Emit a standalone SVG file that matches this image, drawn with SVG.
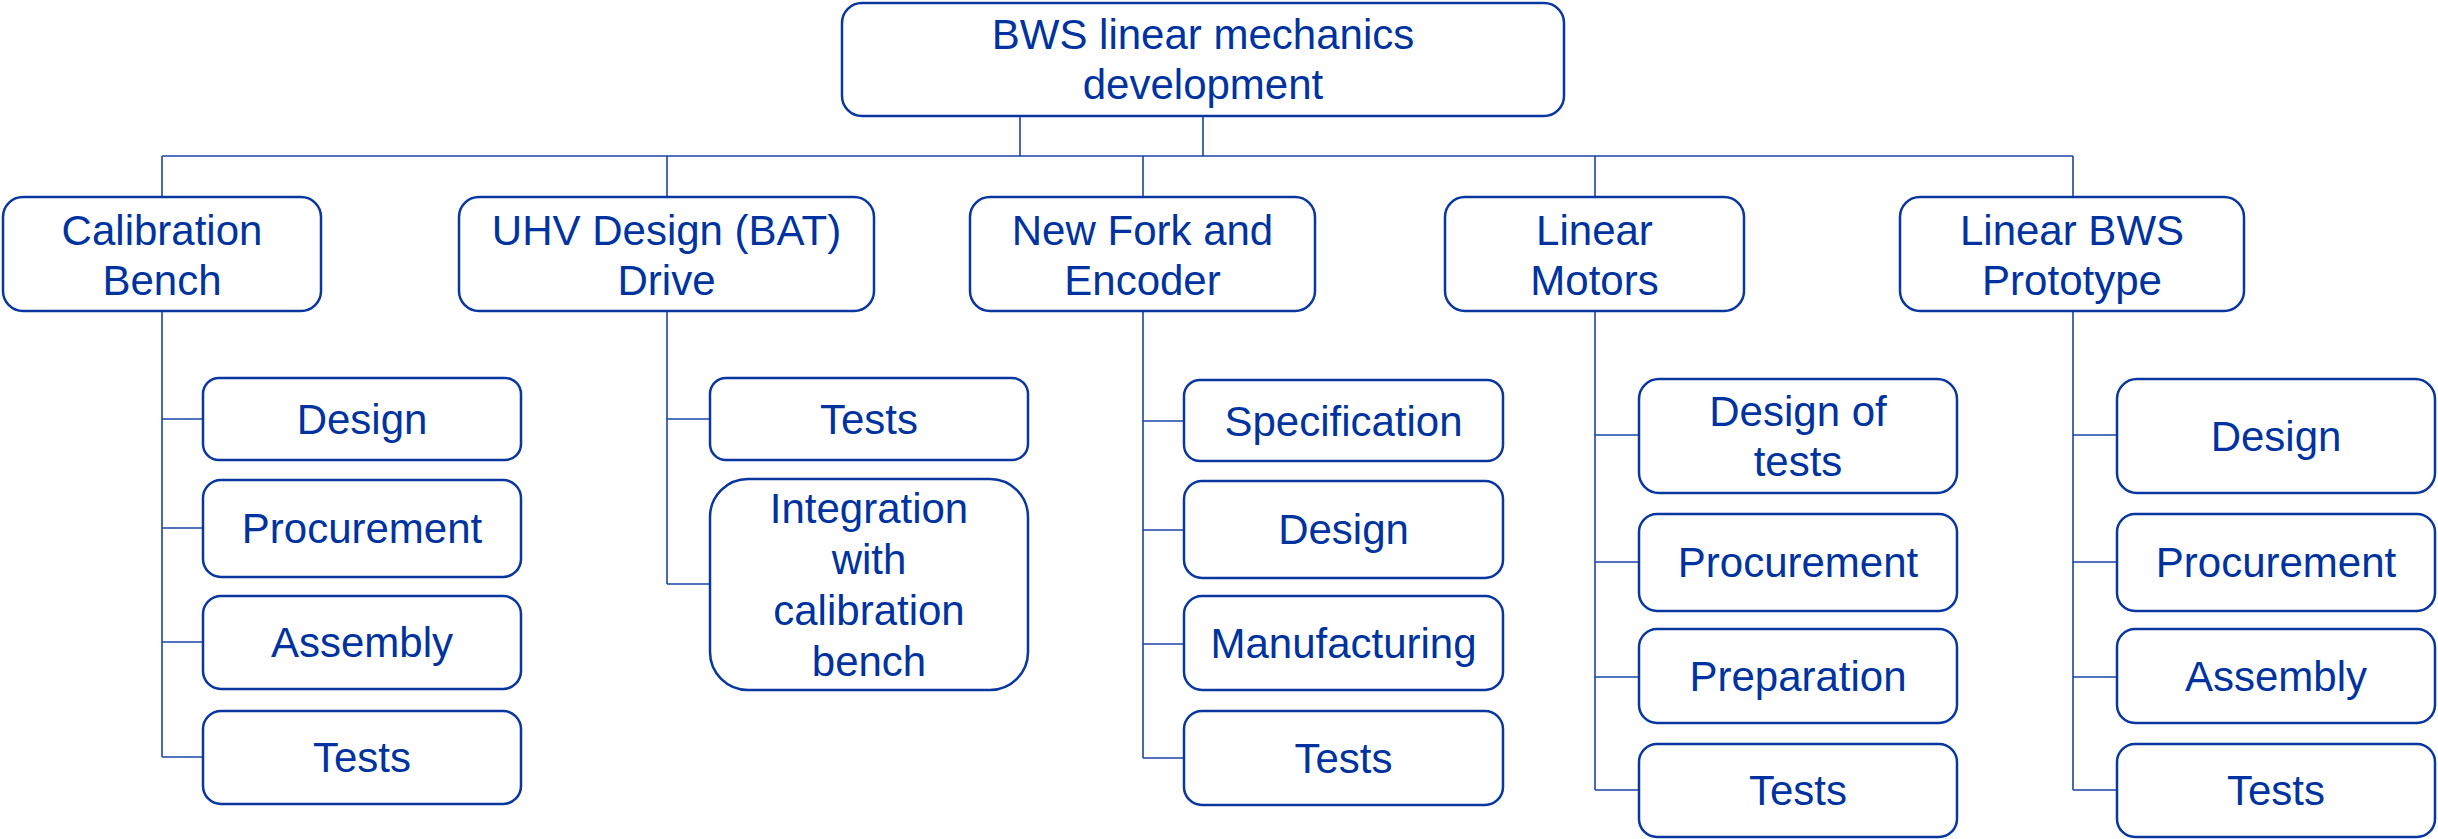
<svg xmlns="http://www.w3.org/2000/svg" width="2438" height="839" viewBox="0 0 2438 839">
<style>
.box{fill:#ffffff;stroke:#0a36a0;stroke-width:2.5}
.conn{fill:none;stroke:#1a44a8;stroke-width:1.6}
text{font-family:"Liberation Sans",Arial,sans-serif;font-size:42px;fill:#0033a0;text-anchor:middle}
</style>
<rect width="2438" height="839" fill="#ffffff"/>
<g id="connectors">
<path class="conn" d="M1020 116V156M1203 116V156M162 156H2073M162 156V197M667 156V197M1143 156V197M1595 156V197M2073 156V197"/>
<path class="conn" d="M162 311V757M162 419H203M162 528H203M162 642H203M162 757H203"/>
<path class="conn" d="M667 311V584M667 419H710M667 584H710"/>
<path class="conn" d="M1143 311V758M1143 421H1184M1143 530H1184M1143 644H1184M1143 758H1184"/>
<path class="conn" d="M1595 311V790M1595 435H1639M1595 562H1639M1595 677H1639M1595 790H1639"/>
<path class="conn" d="M2073 311V790M2073 435H2117M2073 562H2117M2073 677H2117M2073 790H2117"/>
</g>
<g id="root"><rect class="box" x="842" y="3" width="722" height="113" rx="20"/><text x="1203" y="49">BWS linear mechanics</text><text x="1203" y="99">development</text></g>
<g id="calibration-bench"><rect class="box" x="3" y="197" width="318" height="114" rx="20"/><text x="162" y="245">Calibration</text><text x="162" y="295">Bench</text></g>
<g id="cb-design"><rect class="box" x="203" y="378" width="318" height="82" rx="16"/><text x="362" y="434">Design</text></g>
<g id="cb-procurement"><rect class="box" x="203" y="480" width="318" height="97" rx="18"/><text x="362" y="543">Procurement</text></g>
<g id="cb-assembly"><rect class="box" x="203" y="596" width="318" height="93" rx="18"/><text x="362" y="657">Assembly</text></g>
<g id="cb-tests"><rect class="box" x="203" y="711" width="318" height="93" rx="18"/><text x="362" y="772">Tests</text></g>
<g id="uhv-design"><rect class="box" x="459" y="197" width="415" height="114" rx="20"/><text x="666.5" y="245">UHV Design (BAT)</text><text x="666.5" y="295">Drive</text></g>
<g id="uhv-tests"><rect class="box" x="710" y="378" width="318" height="82" rx="16"/><text x="869" y="434">Tests</text></g>
<g id="uhv-integration"><rect class="box" x="710" y="479" width="318" height="211" rx="38"/><text x="869" y="523">Integration</text><text x="869" y="574">with</text><text x="869" y="625">calibration</text><text x="869" y="676">bench</text></g>
<g id="new-fork"><rect class="box" x="970" y="197" width="345" height="114" rx="20"/><text x="1142.5" y="245">New Fork and</text><text x="1142.5" y="295">Encoder</text></g>
<g id="nf-specification"><rect class="box" x="1184" y="380" width="319" height="81" rx="16"/><text x="1343.5" y="436">Specification</text></g>
<g id="nf-design"><rect class="box" x="1184" y="481" width="319" height="97" rx="18"/><text x="1343.5" y="544">Design</text></g>
<g id="nf-manufacturing"><rect class="box" x="1184" y="596" width="319" height="94" rx="18"/><text x="1343.5" y="658">Manufacturing</text></g>
<g id="nf-tests"><rect class="box" x="1184" y="711" width="319" height="94" rx="18"/><text x="1343.5" y="773">Tests</text></g>
<g id="linear-motors"><rect class="box" x="1445" y="197" width="299" height="114" rx="20"/><text x="1594.5" y="245">Linear</text><text x="1594.5" y="295">Motors</text></g>
<g id="lm-design-tests"><rect class="box" x="1639" y="379" width="318" height="114" rx="20"/><text x="1798" y="426">Design of</text><text x="1798" y="476">tests</text></g>
<g id="lm-procurement"><rect class="box" x="1639" y="514" width="318" height="97" rx="18"/><text x="1798" y="577">Procurement</text></g>
<g id="lm-preparation"><rect class="box" x="1639" y="629" width="318" height="94" rx="18"/><text x="1798" y="691">Preparation</text></g>
<g id="lm-tests"><rect class="box" x="1639" y="744" width="318" height="93" rx="18"/><text x="1798" y="805">Tests</text></g>
<g id="linear-bws"><rect class="box" x="1900" y="197" width="344" height="114" rx="20"/><text x="2072" y="245">Linear BWS</text><text x="2072" y="295">Prototype</text></g>
<g id="lb-design"><rect class="box" x="2117" y="379" width="318" height="114" rx="20"/><text x="2276" y="451">Design</text></g>
<g id="lb-procurement"><rect class="box" x="2117" y="514" width="318" height="97" rx="18"/><text x="2276" y="577">Procurement</text></g>
<g id="lb-assembly"><rect class="box" x="2117" y="629" width="318" height="94" rx="18"/><text x="2276" y="691">Assembly</text></g>
<g id="lb-tests"><rect class="box" x="2117" y="744" width="318" height="93" rx="18"/><text x="2276" y="805">Tests</text></g>
</svg>
